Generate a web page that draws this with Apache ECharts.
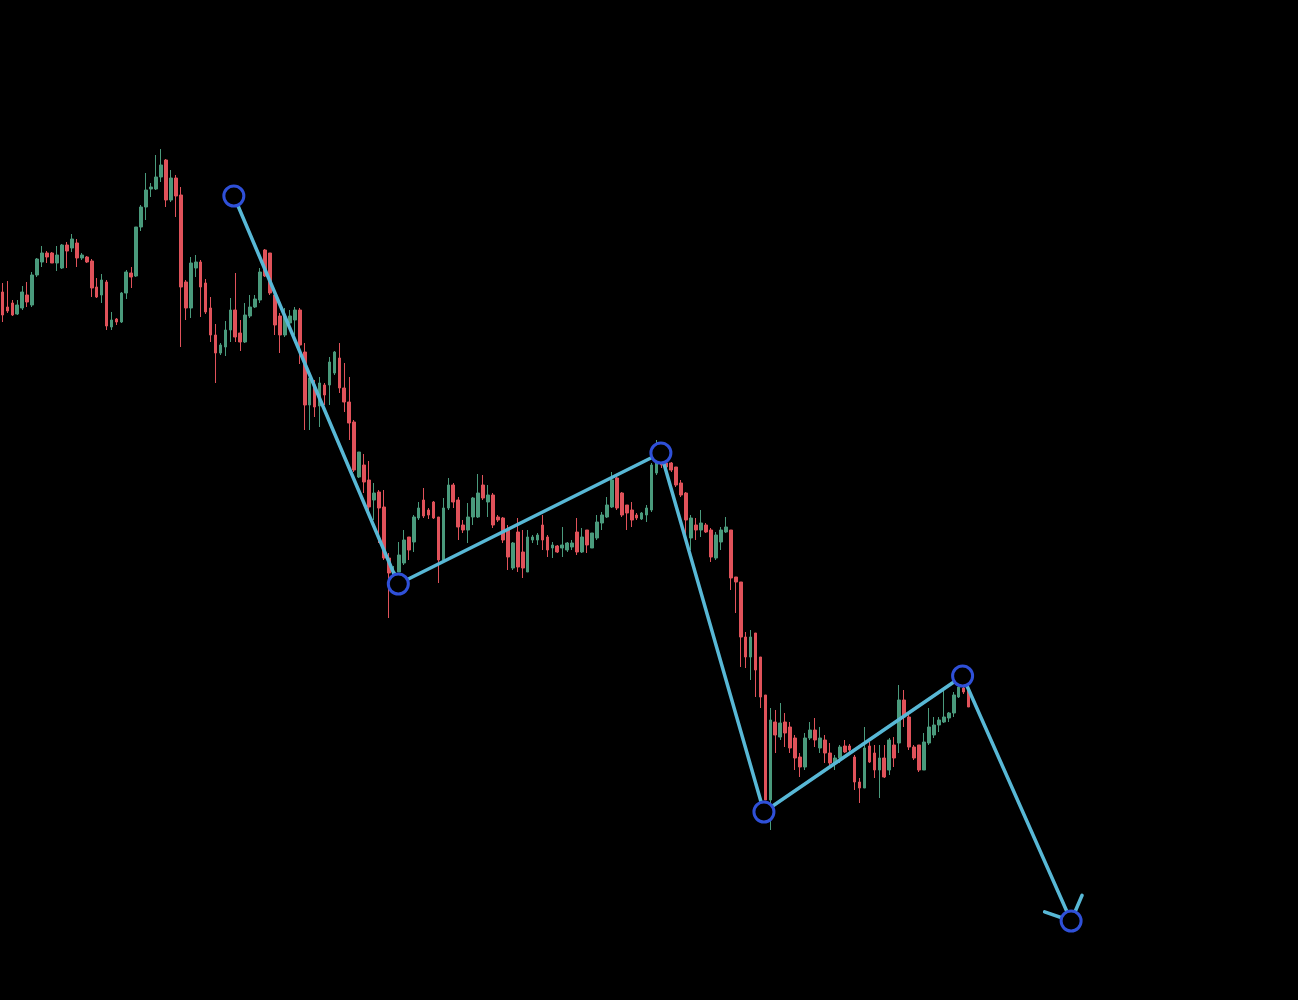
<!DOCTYPE html>
<html><head><meta charset="utf-8">
<script src="https://cdn.jsdelivr.net/npm/echarts@6/dist/echarts.min.js"></script>
<style>html,body{margin:0;padding:0;background:#000;overflow:hidden}#c{width:1298px;height:1000px}</style>
</head><body><div id="c"></div>
<script>
const opens = [70.8,69.3,69.7,68.6,69.2,70.5,69.5,72.5,73.8,74.7,74.7,73.7,73.2,75.5,75.2,75.7,74.2,74.3,73.9,71.3,
70.5,71.8,67.3,68.1,67.8,70.7,72.7,72.4,77.3,79.3,81.1,81.1,82.3,84.0,80.0,82.2,80.5,71.8,69.2,73.2,
73.8,71.7,69.2,66.5,64.7,65.3,67.0,69.0,66.7,65.8,68.4,69.3,70.0,75.0,74.7,70.5,68.4,66.5,67.7,68.0,
69.0,64.8,59.5,61.5,59.4,61.5,61.5,62.7,64.2,61.2,59.8,57.8,52.3,53.5,52.0,50.0,50.8,49.3,44.2,42.0,
42.8,43.7,46.3,45.8,48.2,50.0,49.0,49.8,48.3,44.0,49.2,51.5,50.0,47.5,47.0,48.3,48.3,51.5,49.8,50.5,
48.3,48.2,47.0,43.2,46.8,44.8,42.8,46.0,46.0,47.5,46.3,45.2,45.4,45.2,45.0,45.3,46.8,44.8,47.0,45.2,
46.2,47.7,48.3,49.3,52.2,50.7,49.5,49.0,48.5,48.1,48.5,49.0,52.7,54.0,53.7,53.7,53.3,51.7,50.7,46.2,
47.5,47.0,47.5,47.0,44.2,45.8,46.8,47.0,42.3,41.8,36.3,34.3,36.7,34.3,30.5,20.0,27.8,26.3,27.8,27.3,
26.2,24.3,23.3,26.2,27.0,25.2,26.0,24.7,23.7,24.2,25.4,25.4,24.3,21.8,21.2,25.4,24.7,23.0,24.2,23.0,
25.5,25.7,30.0,28.3,25.3,25.5,23.0,25.7,26.5,27.5,27.8,28.2,28.7,30.3,31.2,31.0];
const closes = [68.5,68.9,68.5,69.5,70.8,69.8,72.5,74.1,74.7,74.3,73.7,74.5,75.5,74.9,76.1,74.2,74.5,73.8,71.2,70.3,
72.0,67.4,68.0,67.8,70.7,72.8,72.3,77.3,79.3,81.0,81.3,82.3,83.5,80.0,82.2,80.4,71.3,69.2,73.7,73.8,
71.3,68.8,66.5,64.7,65.5,67.0,69.0,66.3,65.8,68.5,69.3,70.1,72.8,72.4,70.7,67.5,66.5,68.3,68.4,69.0,
65.5,59.5,62.2,59.3,61.7,60.5,63.8,64.8,61.2,59.8,57.7,53.0,54.8,51.8,49.3,50.7,49.2,44.2,42.7,42.8,
44.5,46.0,45.0,48.3,49.2,48.4,48.5,48.2,44.0,49.2,51.5,49.8,47.3,47.0,48.3,50.2,50.7,50.2,50.5,47.5,
48.0,46.0,44.3,45.7,43.3,43.2,46.3,46.3,46.5,46.0,45.0,45.5,44.8,45.5,45.7,45.7,44.8,46.3,45.5,46.7,
47.8,48.5,49.5,52.0,49.2,48.5,48.7,48.0,48.2,48.7,49.2,53.5,53.8,53.5,53.3,53.0,51.5,50.5,48.0,48.2,
47.0,47.7,46.8,44.3,46.5,47.0,47.3,42.2,41.8,36.3,34.3,36.3,33.0,30.3,20.0,28.0,26.5,27.7,26.7,25.2,
24.2,23.3,26.2,27.0,26.0,26.2,24.7,23.7,24.2,25.3,24.8,25.0,21.8,21.2,25.2,23.8,23.0,24.2,22.3,26.0,
24.2,30.0,28.3,25.3,24.2,23.0,25.8,27.3,27.5,28.0,28.3,28.7,30.5,31.3,30.8,29.3];
const lows = [67.8,68.7,68.4,68.5,69.0,69.3,69.3,72.3,73.3,73.7,73.7,72.9,73.1,73.2,74.8,73.3,74.0,73.7,70.3,70.2,
69.7,67.0,67.0,67.5,67.7,70.1,71.2,72.3,76.9,78.0,80.3,81.0,81.8,79.3,79.8,78.3,65.3,68.0,68.2,72.3,
68.3,68.6,65.8,61.7,64.5,64.4,65.8,65.8,64.9,65.7,68.2,69.2,69.7,72.3,70.5,66.5,64.7,66.3,67.7,66.5,
63.6,57.0,57.0,58.3,57.3,59.5,59.5,62.5,60.7,58.8,56.0,52.8,52.2,50.7,48.7,48.0,45.7,44.0,38.2,41.5,
42.8,43.5,44.0,44.8,48.0,48.2,48.1,48.1,41.7,43.8,49.0,49.2,46.0,46.7,45.7,47.5,48.2,50.0,48.3,47.2,
47.8,45.7,43.0,43.0,42.8,42.2,42.8,45.7,45.5,45.0,44.3,44.2,44.7,44.3,44.8,45.0,44.5,44.7,44.7,45.2,
46.0,47.0,48.2,49.2,49.0,48.3,47.0,47.3,48.0,48.0,47.8,48.8,52.5,53.2,53.0,52.8,51.3,50.3,46.0,45.0,
46.0,46.3,46.7,43.8,44.0,45.0,46.7,41.0,38.7,33.3,33.2,32.0,30.3,29.2,20.0,17.0,24.7,26.0,25.3,24.7,
23.0,22.3,23.0,26.0,25.3,24.7,23.7,23.3,23.0,23.7,24.7,24.5,21.0,19.7,21.2,23.7,22.2,20.2,22.2,22.5,
23.3,24.7,27.3,25.0,24.0,22.8,23.0,25.5,26.2,26.8,27.7,27.8,28.3,30.2,30.6,29.3];
const highs = [71.7,71.9,70.0,70.0,71.4,71.8,72.8,74.2,75.4,74.9,74.8,75.4,75.6,75.8,76.6,76.1,74.7,74.4,74.1,72.2,
72.6,72.0,68.8,68.2,70.8,73.0,73.3,77.3,79.5,82.7,81.7,84.5,85.1,84.1,83.0,82.5,81.3,72.0,74.3,74.5,
74.0,72.1,70.3,67.6,65.7,67.9,70.2,72.7,68.0,69.7,70.5,70.5,73.2,75.1,74.7,70.8,68.7,69.2,69.0,69.3,
69.2,65.7,62.7,62.0,62.3,61.7,64.3,64.9,65.7,63.7,62.3,58.0,54.8,54.6,53.9,51.7,51.0,51.0,44.7,43.4,
45.8,47.0,46.3,48.5,49.8,51.2,49.2,49.9,48.3,50.2,52.2,51.7,50.3,48.0,49.7,50.3,52.6,52.5,51.5,50.7,
48.5,48.3,47.5,45.8,48.2,47.0,47.0,46.5,46.7,48.5,46.5,45.8,45.5,47.3,45.8,46.0,48.2,47.2,47.0,46.7,
48.5,48.8,50.3,52.8,52.3,50.8,49.5,49.8,48.7,48.8,49.5,53.7,56.0,55.2,54.0,53.8,53.3,52.0,50.8,48.5,
48.2,49.0,47.7,47.2,46.8,47.3,48.3,47.0,42.3,41.8,36.8,37.0,36.7,34.3,30.5,29.2,29.0,29.7,28.7,27.8,
26.5,24.7,26.7,27.8,28.2,27.3,26.5,25.7,24.5,25.5,26.0,25.6,24.5,22.2,27.3,25.8,25.5,25.5,25.5,26.2,
26.3,31.5,31.0,28.5,25.5,25.5,26.7,29.2,28.3,28.3,31.3,28.8,30.8,31.8,31.4,31.2];
const slotCount = 262;
const categories = Array.from({length: slotCount}, (_, i) => 'T' + i);
const zigX = [46.7, 79.9, 132.9, 153.7, 193.8, 215.7];
const zigY = [80.4, 41.6, 54.7, 18.8, 32.4, 7.9];

const candleData = opens.map((o, i) => [o, closes[i], lows[i], highs[i]]);
const zigData = zigX.map((x, i) => [x, zigY[i]]);
const n = zigX.length;
const arrowData = [[zigX[n-2], zigY[n-2], zigX[n-1], zigY[n-1]]];

const UP = '#4a9a7c', DOWN = '#e0525a', LINE = '#58b8d6', RING = '#2f50d8';
const chart = echarts.init(document.getElementById('c'), null, {renderer: 'canvas'});
chart.setOption({
  backgroundColor: '#000',
  animation: false,
  grid: {left: -2, top: 0, width: 1300, height: 1000},
  xAxis: [
    {type: 'category', data: categories, show: false, boundaryGap: true},
    {type: 'value', min: -0.5, max: slotCount - 0.5, show: false}
  ],
  yAxis: {type: 'value', min: 0, max: 100, show: false},
  series: [
    {
      type: 'candlestick', xAxisIndex: 0, data: candleData, barWidth: 3.2,
      itemStyle: {color: UP, color0: DOWN, borderColor: UP, borderColor0: DOWN, borderWidth: 1}
    },
    {
      type: 'custom', xAxisIndex: 1, data: arrowData, z: 3,
      encode: {x: [0, 2], y: [1, 3]},
      renderItem: function (params, api) {
        const a = api.coord([api.value(0), api.value(1)]);
        const b = api.coord([api.value(2), api.value(3)]);
        const ang = Math.atan2(a[1] - b[1], a[0] - b[0]);
        const len = 28, spread = 47 * Math.PI / 180;
        const mk = s => ({
          type: 'line',
          shape: {x1: b[0], y1: b[1], x2: b[0] + len * Math.cos(ang + s), y2: b[1] + len * Math.sin(ang + s)},
          style: {stroke: LINE, lineWidth: 3.5, lineCap: 'round'}
        });
        return {type: 'group', children: [mk(spread), mk(-spread)]};
      }
    },
    {
      type: 'line', xAxisIndex: 1, data: zigData, z: 5,
      lineStyle: {color: LINE, width: 3.5},
      symbol: 'circle', symbolSize: 20, showSymbol: true,
      itemStyle: {color: '#000', borderColor: RING, borderWidth: 3}
    }
  ]
});
</script>
</body></html>
